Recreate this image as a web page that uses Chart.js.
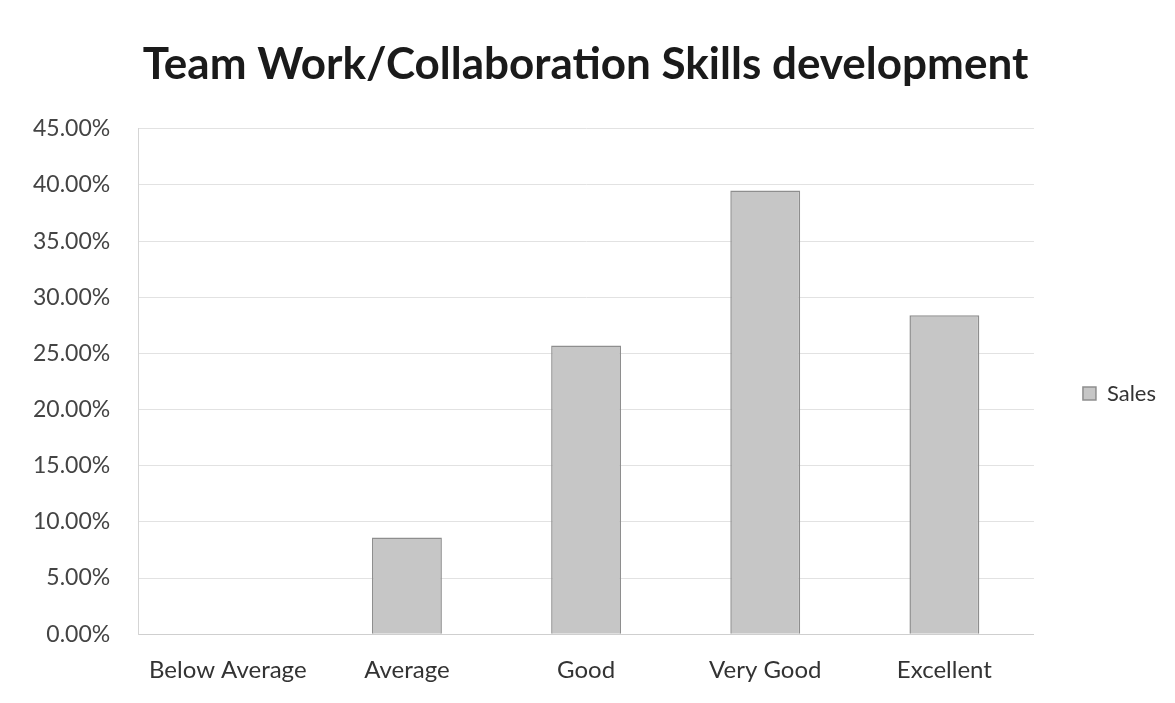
<!DOCTYPE html>
<html>
<head>
<meta charset="utf-8">
<script src="https://cdn.jsdelivr.net/npm/chart.js@4/dist/chart.umd.min.js"></script>
<style>
html,body{margin:0;padding:0;background:#fff;}
#wrap{width:1175px;height:703px;position:relative;}
</style>
</head>
<body>
<div id="wrap"><canvas id="c" width="1175" height="703"></canvas></div>
<script>
const categories = ['Below Average', 'Average', 'Good', 'Very Good', 'Excellent'];
const salesValues = [0, 8.6, 25.7, 39.5, 28.4];
const seriesName = 'Sales';
const chartTitle = 'Team Work/Collaboration Skills development';

const LEGEND_EXTRA = 43;
const LEGEND_DY = 21;
const legendShift = {
  id: 'legendShift',
  beforeLayout(chart) {
    const lg = chart.legend;
    if (lg && !lg._patched) {
      const orig = lg.fit;
      lg.fit = function () { orig.call(this); this.width += LEGEND_EXTRA; };
      lg._patched = true;
    }
  },
  afterLayout(chart) {
    const lg = chart.legend;
    if (lg) { lg.left += LEGEND_EXTRA; lg.top += LEGEND_DY; lg.bottom += LEGEND_DY; }
  }
};

const ctx = document.getElementById('c').getContext('2d');
new Chart(ctx, {
  type: 'bar',
  data: {
    labels: categories,
    datasets: [{
      label: seriesName,
      data: salesValues,
      backgroundColor: '#c6c6c6',
      borderColor: '#8e8e8e',
      borderWidth: 1.5,
      barPercentage: 0.39,
      categoryPercentage: 1.0
    }]
  },
  options: {
    responsive: false,
    animation: false,
    layout: { padding: { top: 38, left: 5, right: 9, bottom: -4 } },
    plugins: {
      title: {
        display: true,
        text: chartTitle,
        color: '#1a1a1a',
        font: { family: 'Lato', size: 44, weight: 'bold' },
        padding: { top: 0, bottom: 38 }
      },
      legend: {
        display: true,
        position: 'right',
        labels: {
          boxWidth: 13,
          boxHeight: 13,
          padding: 6,
          color: '#333',
          font: { family: 'Lato', size: 22 }
        }
      },
      tooltip: { enabled: false }
    },
    scales: {
      x: {
        grid: { display: false, drawTicks: false },
        border: { display: true, color: '#cfcfcf' },
        ticks: {
          color: '#333',
          font: { family: 'Lato', size: 24 },
          padding: 22,
          maxRotation: 0
        }
      },
      y: {
        min: 0,
        max: 45,
        grid: { color: '#e2e2e2', drawTicks: false },
        border: { display: true, color: '#d5d5d5' },
        ticks: {
          stepSize: 5,
          color: '#444',
          font: { family: 'Lato', size: 23 },
          padding: 28,
          callback: v => v.toFixed(2) + '%'
        }
      }
    }
  },
  plugins: [legendShift]
});
</script>
</body>
</html>
